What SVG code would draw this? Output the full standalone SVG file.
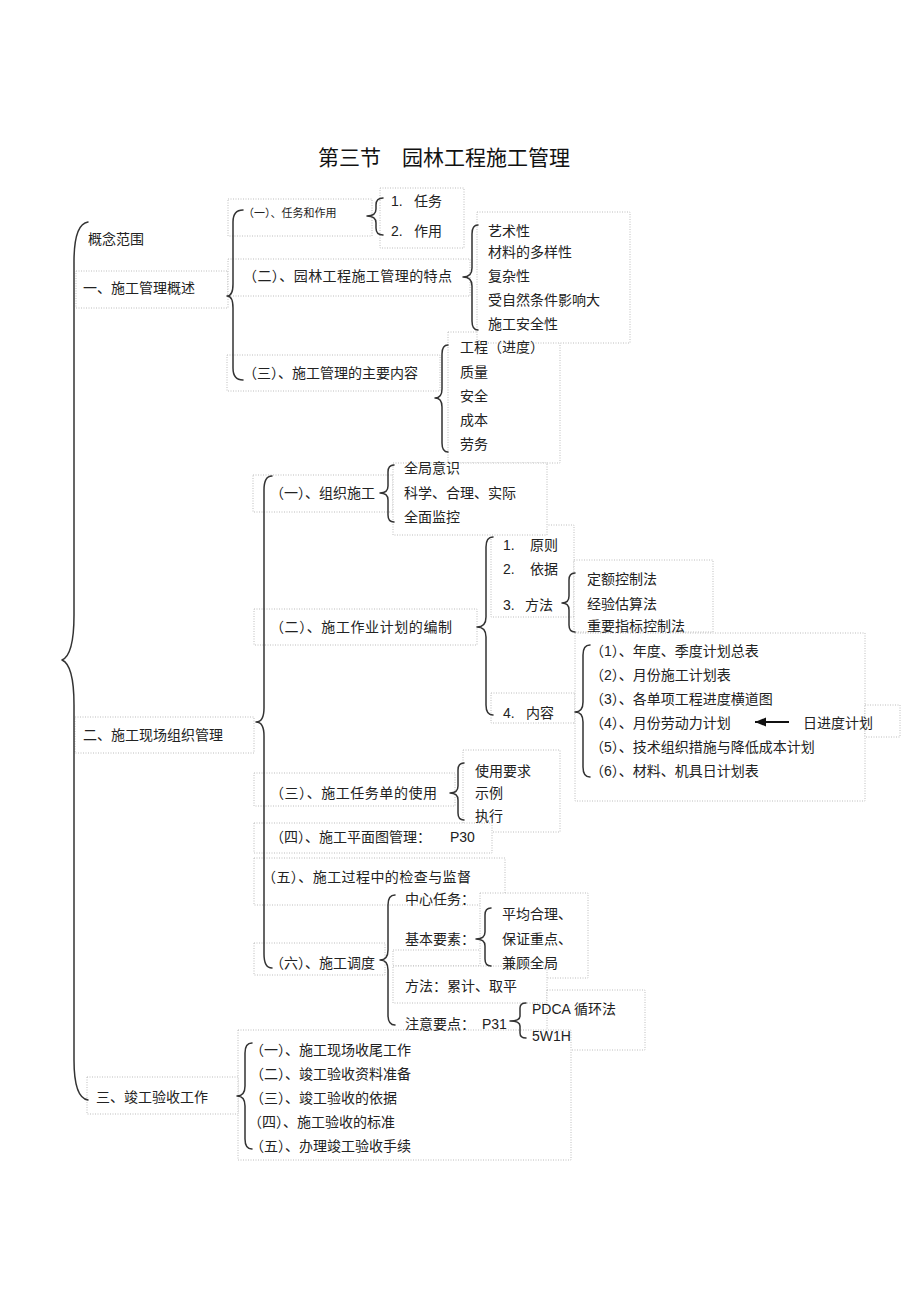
<svg xmlns="http://www.w3.org/2000/svg" width="920" height="1304" viewBox="0 0 920 1304">
<style>
.bx{fill:#fff;stroke:#bdbdbd;stroke-width:1;stroke-dasharray:1 1.5}
.br{fill:none;stroke:#333;stroke-width:1.5;stroke-linecap:round;stroke-linejoin:round}
text{font-family:"Liberation Sans","Noto Sans CJK SC",sans-serif;font-size:14px;fill:#222}
.sm{font-size:11px}
.ti{font-size:21px;fill:#111}
</style>
<defs>
<marker id="ah" markerUnits="userSpaceOnUse" markerWidth="12" markerHeight="10" refX="11" refY="4.5" orient="auto">
<path d="M0,0 L11,4.5 L0,9 z" fill="#111"/>
</marker>
</defs>
<rect width="920" height="1304" fill="#fff"/>
<g id="frames">
<rect class="bx" x="76" y="271" width="152" height="37"/>
<rect class="bx" x="228" y="199" width="144" height="37"/>
<rect class="bx" x="228" y="259" width="242" height="37"/>
<rect class="bx" x="227" y="355" width="213" height="36"/>
<rect class="bx" x="380" y="188" width="84" height="60"/>
<rect class="bx" x="448" y="332" width="112" height="131"/>
<rect class="bx" x="477" y="212" width="153" height="131"/>
<rect class="bx" x="75" y="717" width="179" height="36"/>
<rect class="bx" x="253" y="475" width="140" height="37"/>
<rect class="bx" x="491" y="525" width="83" height="92"/>
<rect class="bx" x="393" y="463" width="154" height="72"/>
<rect class="bx" x="574" y="560" width="139" height="72"/>
<rect class="bx" x="254" y="609" width="223" height="36"/>
<rect class="bx" x="491" y="693" width="84" height="30"/>
<rect class="bx" x="575" y="633" width="290" height="168"/>
<rect class="bx" x="865" y="705" width="35" height="32"/>
<rect class="bx" x="254" y="773" width="201" height="33"/>
<rect class="bx" x="463" y="750" width="97" height="82"/>
<rect class="bx" x="254" y="823" width="238" height="30"/>
<rect class="bx" x="254" y="858" width="251" height="47"/>
<rect class="bx" x="254" y="943" width="131" height="32"/>
<rect class="bx" x="393" y="950" width="95" height="16"/>
<rect class="bx" x="480" y="893" width="108" height="85"/>
<rect class="bx" x="393" y="966" width="154" height="37"/>
<rect class="bx" x="547" y="990" width="98" height="60"/>
<rect class="bx" x="238" y="1030" width="333" height="130"/>
<rect class="bx" x="87" y="1077" width="151" height="37"/>
</g>
<g id="connectors">
<path class="br" d="M88,222 Q74,224 74,262 L74,615 Q74,655 62,660 Q74,665 74,705 L74,1060 Q74,1098 88,1100"/>
<path class="br" d="M243,210 Q233,210 233,222 L233,284 Q233,296 227,296 Q233,296 233,308 L233,368 Q233,380 243,380"/>
<path class="br" d="M383,198 Q376,198 376,205 L376,209 Q376,216 367,216 Q376,216 376,223 L376,228 Q376,235 383,235"/>
<path class="br" d="M478,225 Q472,225 472,234 L472,268 Q472,277 463,277 Q472,277 472,286 L472,321 Q472,330 478,330"/>
<path class="br" d="M448,345 Q442,345 442,354 L442,389 Q442,398 435,398 Q442,398 442,407 L442,443 Q442,452 448,452"/>
<path class="br" d="M272,476 Q264,476 264,490 L264,708 Q264,722 256,722 Q264,722 264,736 L264,954 Q264,968 272,968"/>
<path class="br" d="M394,465 Q388,465 388,472 L388,486 Q388,493 380,493 Q388,493 388,500 L388,515 Q388,522 394,522"/>
<path class="br" d="M493,537 Q486,537 486,547 L486,617 Q486,627 477,627 Q486,627 486,637 L486,705 Q486,715 493,715"/>
<path class="br" d="M575,573 Q569,573 569,580 L569,596 Q569,603 562,603 Q569,603 569,610 L569,625 Q569,632 575,632"/>
<path class="br" d="M590,645 Q583,645 583,655 L583,702 Q583,712 575,712 Q583,712 583,722 L583,767 Q583,777 590,777"/>
<path class="br" d="M464,763 Q458,763 458,770 L458,786 Q458,793 450,793 Q458,793 458,800 L458,813 Q458,820 464,820"/>
<path class="br" d="M395,895 Q388,895 388,905 L388,950 Q388,960 380,960 Q388,960 388,970 L388,1015 Q388,1025 395,1025"/>
<path class="br" d="M491,908 Q485,908 485,915 L485,932 Q485,939 476,939 Q485,939 485,946 L485,959 Q485,966 491,966"/>
<path class="br" d="M526,1003 Q520,1003 520,1008 L520,1016 Q520,1021 510,1021 Q520,1021 520,1026 L520,1033 Q520,1038 526,1038"/>
<path class="br" d="M252,1043 Q245,1043 245,1053 L245,1086 Q245,1096 237,1096 Q245,1096 245,1106 L245,1139 Q245,1149 252,1149"/>
<line x1="789" y1="722" x2="755" y2="722" stroke="#111" stroke-width="1.8" marker-end="url(#ah)"/>
</g>
<g id="title"><text class="ti" x="318" y="165">第三节　园林工程施工管理</text></g>
<g id="n-gainian"><text x="88" y="244">概念范围</text></g>
<g id="n-1"><text x="83" y="293">一、施工管理概述</text></g>
<g id="n-1-1"><text class="sm" x="243" y="217">（一）、任务和作用</text></g>
<g id="n-1-1-items"><text x="391" y="206">1.<tspan x="414">任务</tspan></text><text x="391" y="236">2.<tspan x="414">作用</tspan></text></g>
<g id="n-1-2"><text x="243" y="281" textLength="209">（二）、园林工程施工管理的特点</text></g>
<g id="n-1-2-items"><text x="488" y="236">艺术性</text><text x="488" y="257">材料的多样性</text><text x="488" y="281">复杂性</text><text x="488" y="305">受自然条件影响大</text><text x="488" y="329">施工安全性</text></g>
<g id="n-1-3"><text x="243" y="378">（三）、施工管理的主要内容</text></g>
<g id="n-1-3-items"><text x="460" y="352">工程（进度）</text><text x="460" y="377">质量</text><text x="460" y="401">安全</text><text x="460" y="425">成本</text><text x="460" y="449">劳务</text></g>
<g id="n-2"><text x="83" y="740">二、施工现场组织管理</text></g>
<g id="n-2-1"><text x="270" y="498">（一）、组织施工</text></g>
<g id="n-2-1-items"><text x="404" y="473">全局意识</text><text x="404" y="498">科学、合理、实际</text><text x="404" y="522">全面监控</text></g>
<g id="n-2-2"><text x="270" y="632" textLength="182">（二）、施工作业计划的编制</text></g>
<g id="n-2-2-items"><text x="503" y="550">1.<tspan x="530">原则</tspan></text><text x="503" y="574">2.<tspan x="530">依据</tspan></text><text x="503" y="610">3.<tspan x="525">方法</tspan></text><text x="503" y="718">4.<tspan x="526">内容</tspan></text></g>
<g id="n-2-2-fangfa"><text x="587" y="584">定额控制法</text><text x="587" y="609">经验估算法</text><text x="587" y="631">重要指标控制法</text></g>
<g id="n-2-2-neirong"><text x="590" y="656">（1）、年度、季度计划总表</text><text x="590" y="680">（2）、月份施工计划表</text><text x="590" y="704">（3）、各单项工程进度横道图</text><text x="590" y="728">（4）、月份劳动力计划</text><text x="590" y="752">（5）、技术组织措施与降低成本计划</text><text x="590" y="776">（6）、材料、机具日计划表</text></g>
<g id="n-rijindu"><text x="803" y="728">日进度计划</text></g>
<g id="n-2-3"><text x="270" y="798" textLength="167">（三）、施工任务单的使用</text></g>
<g id="n-2-3-items"><text x="475" y="776">使用要求</text><text x="475" y="798">示例</text><text x="475" y="821">执行</text></g>
<g id="n-2-4"><text x="270" y="842">（四）、施工平面图管理：<tspan x="450">P30</tspan></text></g>
<g id="n-2-5"><text x="262" y="882" textLength="209">（五）、施工过程中的检查与监督</text></g>
<g id="n-2-6"><text x="270" y="968">（六）、施工调度</text></g>
<g id="n-2-6-items"><text x="405" y="904">中心任务：</text><text x="405" y="944">基本要素：</text><text x="405" y="991">方法：累计、取平</text><text x="405" y="1029">注意要点：<tspan x="482">P31</tspan></text></g>
<g id="n-2-6-yaosu"><text x="502" y="919">平均合理、</text><text x="502" y="944">保证重点、</text><text x="502" y="968">兼顾全局</text></g>
<g id="n-2-6-yaodian"><text x="532" y="1014">PDCA 循环法</text><text x="532" y="1041">5W1H</text></g>
<g id="n-3"><text x="96" y="1102">三、竣工验收工作</text></g>
<g id="n-3-items"><text x="250" y="1055">（一）、施工现场收尾工作</text><text x="250" y="1079">（二）、竣工验收资料准备</text><text x="250" y="1103">（三）、竣工验收的依据</text><text x="248" y="1127">（四）、施工验收的标准</text><text x="250" y="1151">（五）、办理竣工验收手续</text></g>
</svg>
